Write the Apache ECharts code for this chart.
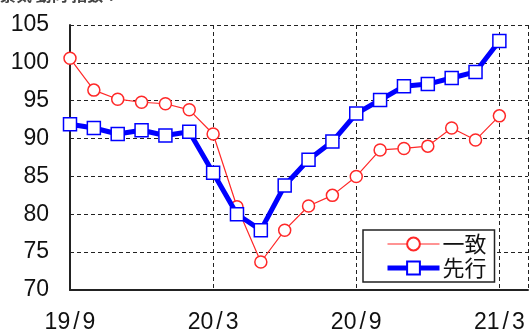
<!DOCTYPE html>
<html>
<head>
<meta charset="utf-8">
<script src="https://cdn.jsdelivr.net/npm/echarts@6/dist/echarts.min.js"></script>
<style>html,body{margin:0;padding:0;background:#fff;}#c{width:531px;height:336px;}</style>
</head>
<body>
<div id="c"></div>
<script>
const monthIndex = [0,1,2,3,4,5,6,7,8,9,10,11,12,13,14,15,16,17,18];
const xTickLabels = {0:'19/9', 6:'20/3', 12:'20/9', 18:'21/3'};
const coincident = [100.6,96.4,95.2,94.8,94.6,93.8,90.6,81.0,73.7,77.9,81.1,82.5,85.0,88.5,88.7,89.0,91.4,89.8,93.0];
const leading = [91.9,91.4,90.6,91.1,90.4,90.9,85.5,80.0,77.9,83.8,87.2,89.6,93.3,95.1,96.9,97.2,98.0,98.8,102.9];
const seriesNames = ['一致','先行'];

const chart = echarts.init(document.getElementById('c'), null, {renderer:'canvas'});
const font = '"Liberation Sans", Arial, sans-serif';
const dash = {color:'#222', type:[4,3], width:1};
chart.setOption({
  animation:false,
  backgroundColor:'#fff',
  grid:{left:70,right:0,top:25,bottom:46,containLabel:false},
  graphic:[{type:'text',left:0,top:-13,style:{text:'景気 動向 指数：',font:'bold 16px "Noto Sans CJK JP"',fill:'#444'}}],
  legend:{
    data:[
      {name:seriesNames[0],lineStyle:{width:1.2}},
      {name:seriesNames[1],lineStyle:{width:5}}
    ],
    orient:'vertical',left:363,top:230,width:151,
    padding:[3,8,3,22],itemGap:2,itemWidth:52,itemHeight:16,
    backgroundColor:'#fff',borderColor:'#222',borderWidth:1.5,
    textStyle:{fontSize:22,color:'#111',fontFamily:'"Noto Sans CJK JP"',padding:[0,0,0,-2]}
  },
  xAxis:{
    type:'value',min:0,max:19.2,interval:6,
    axisLine:{show:true,lineStyle:{color:'#222',width:2}},
    axisTick:{show:false},
    axisLabel:{fontSize:23,color:'#111',fontFamily:font,margin:21,
      formatter:v=>{
        const t = xTickLabels[v];
        if (t === undefined) return '';
        const p = t.split('/');
        return '{d|' + p[0] + '}{s|/}{d|' + p[1] + '}';
      },
      rich:{
        d:{fontSize:23,color:'#111',fontFamily:font},
        s:{fontSize:23,color:'#111',fontFamily:font,padding:[0,3,0,3]}
      }
    },
    splitLine:{show:true,lineStyle:dash}
  },
  yAxis:{
    type:'value',min:70,max:105,interval:5,
    axisLine:{show:true,lineStyle:{color:'#222',width:2}},
    axisTick:{show:false},
    axisLabel:{fontSize:23,color:'#111',fontFamily:font,margin:21},
    splitLine:{show:true,lineStyle:dash}
  },
  series:[
    {name:seriesNames[0],type:'line',data:monthIndex.map((m,i)=>[m,coincident[i]]),
     symbol:'circle',symbolSize:12,
     lineStyle:{color:'#ff2828',width:1.2},
     itemStyle:{color:'#fff',borderColor:'#ff2828',borderWidth:1.5},
     z:2},
    {name:seriesNames[1],type:'line',data:monthIndex.map((m,i)=>[m,leading[i]]),
     symbol:'rect',symbolSize:13,
     lineStyle:{color:'#0000ff',width:5},
     itemStyle:{color:'#fff',borderColor:'#0000ff',borderWidth:1.5},
     z:3}
  ]
});
</script>
</body>
</html>
